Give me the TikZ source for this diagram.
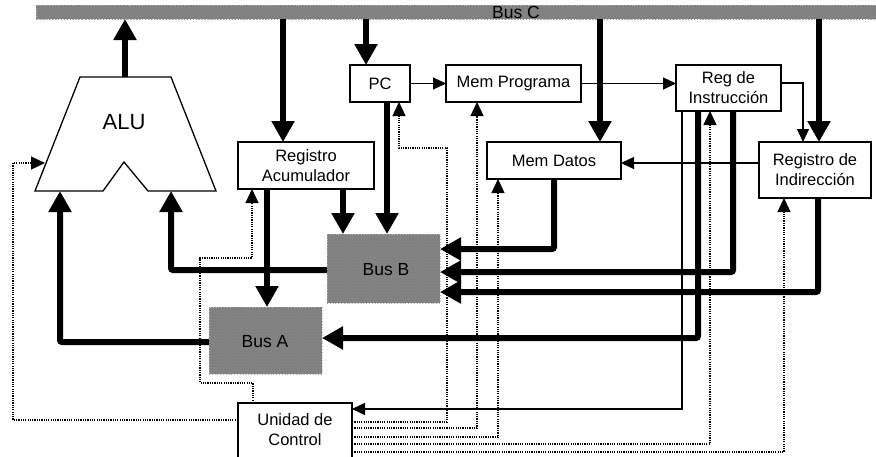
\documentclass[tikz,border=0pt]{standalone}
\usepackage{fontspec}
\setmainfont{Liberation Sans}
\usetikzlibrary{arrows.meta,patterns}

\begin{document}
\begin{tikzpicture}[x=1pt,y=-1pt,
  box/.style={draw,line width=1.2pt,fill=white,inner sep=0pt,outer sep=0pt,
    align=center,font=\fontsize{16.5}{20}\selectfont},
  busbox/.style={fill={rgb,255:red,128;green,128;blue,128},draw=gray!55,dotted,
    line width=0.8pt,inner sep=0pt,outer sep=0pt,
    postaction={pattern=crosshatch dots,pattern color=black!45}},
  buslabel/.style={font=\fontsize{17.5}{20}\selectfont,inner sep=0pt},
  dataline/.style={line width=6pt,-{Triangle[width=22pt,length=21pt]}},
  sigline/.style={line width=1.2pt,-{Triangle[width=12pt,length=13pt]}},
  ctrlline/.style={line width=1.2pt,dash pattern=on 1.2pt off 1.1pt,
    -{Triangle[width=13pt,length=14pt]}},
]
\useasboundingbox (0,0) rectangle (876,456);
\clip (0,0) rectangle (876,456);

% Bus C across the top
\node[busbox,minimum width=840pt,minimum height=14pt] (busC) at (456,12) {};
\node[buslabel] (busClabel) at (516,12) {Bus C};

% ALU outline
\draw[line width=1.3pt,fill=white]
  (80,77) -- (171,77) -- (216,191) -- (148,191) -- (124,162) -- (103,191) -- (35,191) -- cycle;
\node[font=\fontsize{22}{24}\selectfont] (alu) at (124,122) {ALU};
\coordinate (aluout) at (125,77);
\coordinate (alua) at (60,191);
\coordinate (alub) at (171,191);
\coordinate (alucl) at (45,163);

% registers and memories
\node[box,minimum width=60pt,minimum height=37pt] (pc) at (380,83.5) {PC};
\node[box,minimum width=135pt,minimum height=37pt] (memprog) at (513.5,83.5) {Mem Programa};
\node[box,minimum width=105pt,minimum height=46pt] (regins) at (728.5,88) {Reg de\\Instrucción};
\node[box,minimum width=136pt,minimum height=47pt] (regacc) at (306,165.5) {Registro\\Acumulador};
\node[box,minimum width=134pt,minimum height=37pt] (memdat) at (554,160.5) {Mem Datos};
\node[box,minimum width=112pt,minimum height=56pt] (regind) at (815,170) {Registro de\\Indirección};

% internal buses
\node[busbox,minimum width=113pt,minimum height=69pt] (busB) at (383.5,268.5) {};
\node[buslabel] (busBlabel) at (386,270) {Bus B};
\node[busbox,minimum width=113pt,minimum height=67pt] (busA) at (265.5,340.5) {};
\node[buslabel] (busAlabel) at (265,342) {Bus A};

% control unit
\node[box,minimum width=114pt,minimum height=67pt] (uc) at (295,436.5) {};
\node[font=\fontsize{16.5}{20}\selectfont,align=center,inner sep=0pt] (uclabel) at (295,430) {Unidad de\\Control};

% data paths
\draw[dataline] (aluout) -- (aluout |- busC.south);
\draw[dataline] (busC.south -| 283,0) -- (regacc.north -| 283,0);
\draw[dataline] (busC.south -| 366,0) -- (pc.north -| 366,0);
\draw[dataline] (busC.south -| 600,0) -- (memdat.north -| 600,0);
\draw[dataline] (busC.south -| 819,0) -- (regind.north -| 819,0);
\draw[dataline] (regacc.south -| 267,0) -- (busA.north -| 267,0);
\draw[dataline] (regacc.south -| 343,0) -- (busB.north -| 343,0);
\draw[dataline] (pc.south -| 387,0) -- (busB.north -| 387,0);
\draw[dataline,rounded corners=2pt] (memdat.south) |- (busB.east |- 0,249);
\draw[dataline,rounded corners=2pt] (regins.south -| 733,0) |- (busB.east |- 0,272);
\draw[dataline,rounded corners=2pt] (regind.south -| 818,0) |- (busB.east |- 0,292);
\draw[dataline,rounded corners=2pt] (regins.south -| 698,0) |- (busA.east |- 0,338);
\draw[dataline,rounded corners=2pt] (busB.west |- 0,270) -| (alub);
\draw[dataline,rounded corners=2pt] (busA.west |- 0,342) -| (alua);

% address and instruction signals
\draw[sigline] (pc.east) -- (memprog.west);
\draw[sigline] (memprog.east) -- (memprog.east -| regins.west);
\draw[sigline] (regins.east |- 0,83) -| (regind.north -| 803,0);
\draw[sigline] (regind.west |- 0,163) -- (memdat.east |- 0,163);
\draw[sigline] (regins.south -| 682,0) |- (uc.east |- 0,409);

% control lines
\draw[ctrlline] (uc.west |- 0,420) -| (13,163) -- (alucl);
\draw[ctrlline] (uc.north -| 253,0) |- (200,383) |- (252,258) -- (regacc.south -| 252,0);
\draw[ctrlline] (uc.east |- 0,422) -| (447,148) -| (pc.south -| 399,0);
\draw[ctrlline] (uc.east |- 0,428) -| (memprog.south -| 477,0);
\draw[ctrlline] (uc.east |- 0,437) -| (memdat.south -| 498,0);
\draw[ctrlline] (uc.east |- 0,444) -| (regins.south -| 710,0);
\draw[ctrlline] (uc.east |- 0,452) -| (regind.south -| 784,0);
\end{tikzpicture}
\end{document}
